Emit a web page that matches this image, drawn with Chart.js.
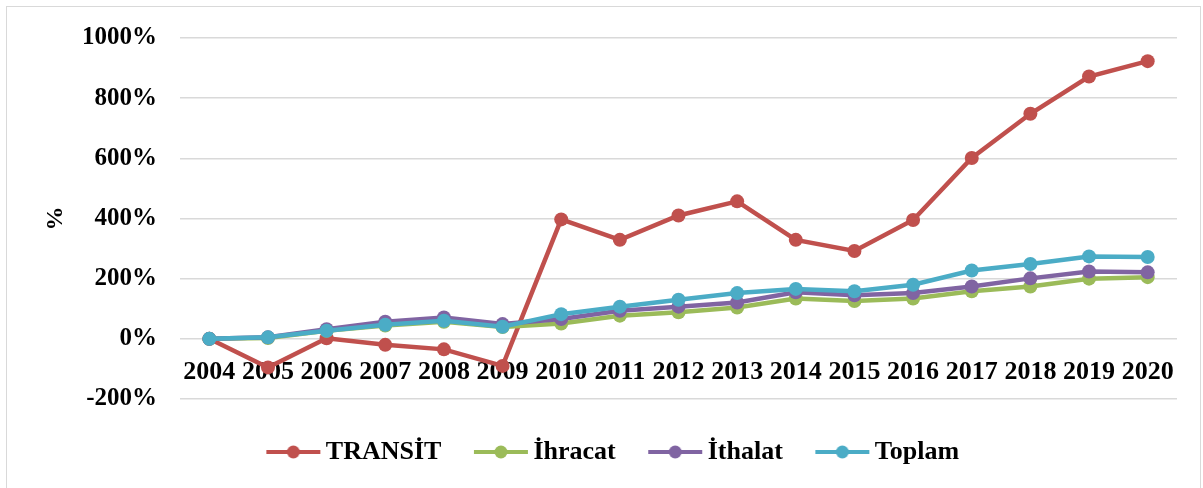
<!DOCTYPE html>
<html>
<head>
<meta charset="utf-8">
<script src="https://cdn.jsdelivr.net/npm/chart.js@4.4.1/dist/chart.umd.min.js"></script>
<style>
  html, body { margin: 0; padding: 0; background: #fff; }
  #wrap { position: relative; width: 1203px; height: 488px; }
  #frame { position: absolute; left: 6px; top: 6px; width: 1193px; height: 500px; border: 1.5px solid #d9d9d9; pointer-events: none; }
</style>
</head>
<body>
<div id="wrap">
  <canvas id="grafico" width="1203" height="488"></canvas>
  <div id="frame"></div>
</div>
<script>
// years on the category axis
const years = ['2004', '2005', '2006', '2007', '2008', '2009', '2010', '2011', '2012',
               '2013', '2014', '2015', '2016', '2017', '2018', '2019', '2020'];

// series values, percent change
const transit = [0, -95, 2, -20, -35, -90, 397, 329, 410, 457, 329, 292, 395, 601, 748, 872, 923];
const ihracat = [0, 3, 27, 44, 57, 39, 51, 77, 88, 104, 134, 126, 134, 158, 174, 200, 205];
const ithalat = [0, 5, 32, 57, 71, 49, 66, 93, 107, 121, 155, 145, 152, 174, 201, 224, 221];
const toplam  = [0, 5, 27, 47, 60, 40, 82, 107, 130, 152, 166, 158, 180, 227, 249, 274, 272];

// y axis range and step
const yMin = -200;
const yMax = 1000;
const yStep = 200;

const seriesNames = ['TRANSİT', 'İhracat', 'İthalat', 'Toplam'];
const colores = ['#c0504d', '#9bbb59', '#8064a2', '#4bacc6'];

const fuente = '"Liberation Serif", "Times New Roman", serif';

// legend marker: short line with a dot in the middle
function marcador(color) {
    const c = document.createElement('canvas');
    c.width = 56;
    c.height = 16;
    const g = c.getContext('2d');
    g.strokeStyle = color;
    g.lineWidth = 4;
    g.beginPath();
    g.moveTo(1, 8);
    g.lineTo(55, 8);
    g.stroke();
    g.fillStyle = color;
    g.beginPath();
    g.arc(28, 8, 6.5, 0, Math.PI * 2);
    g.fill();
    return c;
}

function serie(nombre, datos, i) {
    return {
        label: nombre,
        data: datos,
        borderColor: colores[i],
        backgroundColor: colores[i],
        borderWidth: 4.5,
        pointRadius: 7,
        pointHoverRadius: 7,
        pointBorderWidth: 0,
        tension: 0,
        order: 4 - i
    };
}

function dibujar() {
    const ctx = document.getElementById('grafico').getContext('2d');
    new Chart(ctx, {
        type: 'line',
        data: {
            labels: years,
            datasets: [
                serie(seriesNames[0], transit, 0),
                serie(seriesNames[1], ihracat, 1),
                serie(seriesNames[2], ithalat, 2),
                serie(seriesNames[3], toplam, 3)
            ]
        },
        options: {
            responsive: false,
            animation: false,
            layout: {
                padding: { left: 56, right: 26, top: 37, bottom: 13 }
            },
            plugins: {
                tooltip: { enabled: false },
                legend: {
                    position: 'bottom',
                    labels: {
                        usePointStyle: true,
                        pointStyleWidth: 39,
                        padding: 40,
                        color: '#000',
                        font: { family: fuente, size: 26, weight: 'bold' },
                        generateLabels: function(chart) {
                            return chart.data.datasets.map((ds, i) => ({
                                text: ds.label,
                                pointStyle: marcador(colores[i]),
                                fillStyle: colores[i],
                                strokeStyle: colores[i],
                                lineWidth: 0,
                                hidden: false,
                                datasetIndex: i
                            }));
                        }
                    }
                }
            },
            scales: {
                x: {
                    type: 'category',
                    position: { y: 0 },
                    offset: true,
                    grid: { display: false, drawTicks: false },
                    border: { display: false },
                    ticks: {
                        autoSkip: false,
                        maxRotation: 0,
                        padding: 18,
                        color: '#000',
                        font: { family: fuente, size: 26, weight: 'bold' }
                    },
                    afterFit: function(s) { s.height = 1; }
                },
                y: {
                    min: yMin,
                    max: yMax,
                    grid: { color: '#d9d9d9', lineWidth: 1.5, drawTicks: false },
                    border: { display: false },
                    ticks: {
                        stepSize: yStep,
                        padding: 23,
                        color: '#000',
                        font: { family: fuente, size: 25, weight: 'bold' },
                        callback: v => v + '%'
                    },
                    title: {
                        display: true,
                        text: '%',
                        color: '#000',
                        padding: { top: -14.4, bottom: 0 },
                        font: { family: fuente, size: 24, weight: 'bold' }
                    },
                    afterFit: function(s) { s.width = 124; }
                }
            }
        }
    });
}

document.fonts.load('bold 26px "Liberation Serif"').then(dibujar, dibujar);
</script>
</body>
</html>
